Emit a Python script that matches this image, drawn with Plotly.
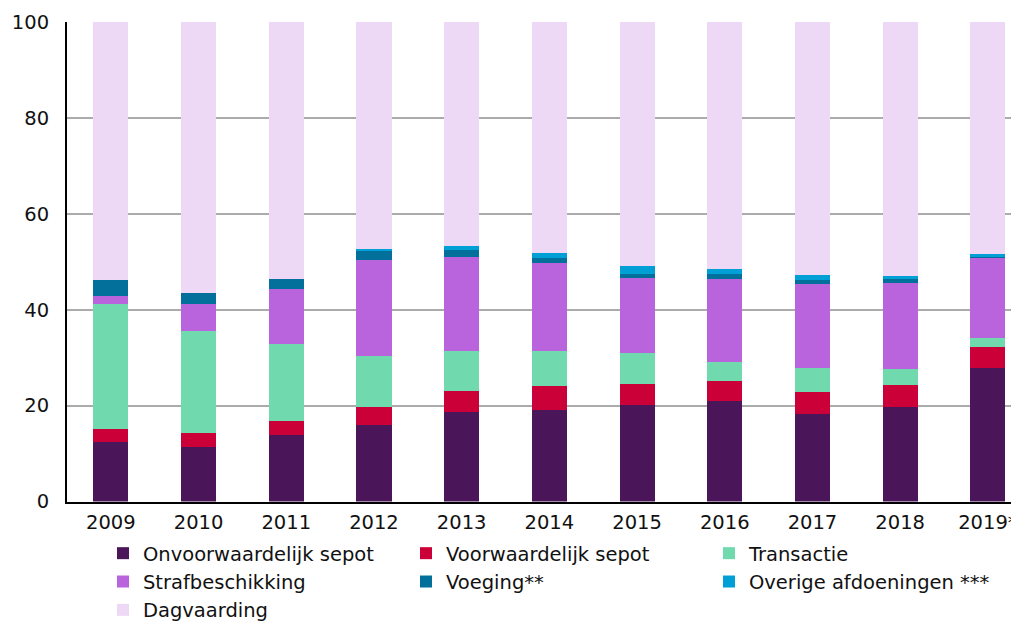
import plotly.graph_objects as go

years = ["2009", "2010", "2011", "2012", "2013", "2014", "2015", "2016", "2017", "2018", "2019*"]

onvoorwaardelijk_sepot = [12.4, 11.4, 13.9, 15.9, 18.7, 19.2, 20.2, 20.9, 18.2, 19.7, 27.8]
voorwaardelijk_sepot   = [2.7, 2.9, 3.0, 3.8, 4.4, 5.0, 4.4, 4.2, 4.6, 4.7, 4.5]
transactie             = [26.0, 21.2, 16.0, 10.7, 8.2, 7.2, 6.4, 4.1, 5.0, 3.3, 1.9]
strafbeschikking       = [1.8, 5.6, 11.5, 20.0, 19.8, 18.4, 15.6, 17.2, 17.5, 17.9, 16.6]
voeging                = [3.3, 2.3, 2.1, 1.9, 1.4, 1.0, 0.8, 1.0, 0.9, 0.8, 0.4]
overige_afdoeningen    = [0.0, 0.0, 0.0, 0.3, 0.8, 1.1, 1.7, 1.2, 1.1, 0.7, 0.4]
dagvaarding            = [53.8, 56.6, 53.5, 47.4, 46.7, 48.1, 50.9, 51.4, 52.7, 52.9, 48.4]

series = [
    ("Onvoorwaardelijk sepot", onvoorwaardelijk_sepot, "#4A1559"),
    ("Voorwaardelijk sepot", voorwaardelijk_sepot, "#CC0039"),
    ("Transactie", transactie, "#70D9AE"),
    ("Strafbeschikking", strafbeschikking, "#B964DC"),
    ("Voeging**", voeging, "#02709A"),
    ("Overige afdoeningen ***", overige_afdoeningen, "#00A0D6"),
    ("Dagvaarding", dagvaarding, "#EDD9F5"),
]

fig = go.Figure()
for name, vals, color in series:
    fig.add_trace(go.Bar(
        x=years, y=vals, name=name,
        marker=dict(color=color, line=dict(width=0)),
        width=0.4,
    ))

FONT = "DejaVu Sans, Verdana, sans-serif"
# page body adds an 8px margin; the figure is sized/offset to compensate
fig.update_layout(
    barmode="stack",
    width=1011, height=617,
    margin=dict(l=59, r=0, t=14, b=120),
    plot_bgcolor="white", paper_bgcolor="white",
    font=dict(family=FONT, size=19.5, color="#111111"),
    showlegend=True,
    legend=dict(
        orientation="h", traceorder="normal",
        x=0.0378, xanchor="left",
        yref="container", y=0.1475, yanchor="top",
        entrywidth=258, entrywidthmode="pixels",
        font=dict(family=FONT, size=19.5, color="#111111"),
        itemwidth=30, tracegroupgap=0,
    ),
    xaxis=dict(
        range=[-0.5, 10.355],
        showline=True, linecolor="black", linewidth=2,
        ticks="", showgrid=False, ticklabelstandoff=2,
        tickfont=dict(size=19.5),
    ),
    yaxis=dict(
        range=[0, 100], tickvals=[0, 20, 40, 60, 80, 100],
        showline=True, linecolor="black", linewidth=2,
        showgrid=True, gridcolor="#ABABAB", gridwidth=2,
        zeroline=False, ticks="", ticklabelstandoff=12,
        tickfont=dict(size=19.5),
    ),
)

fig.write_html("out.html")
